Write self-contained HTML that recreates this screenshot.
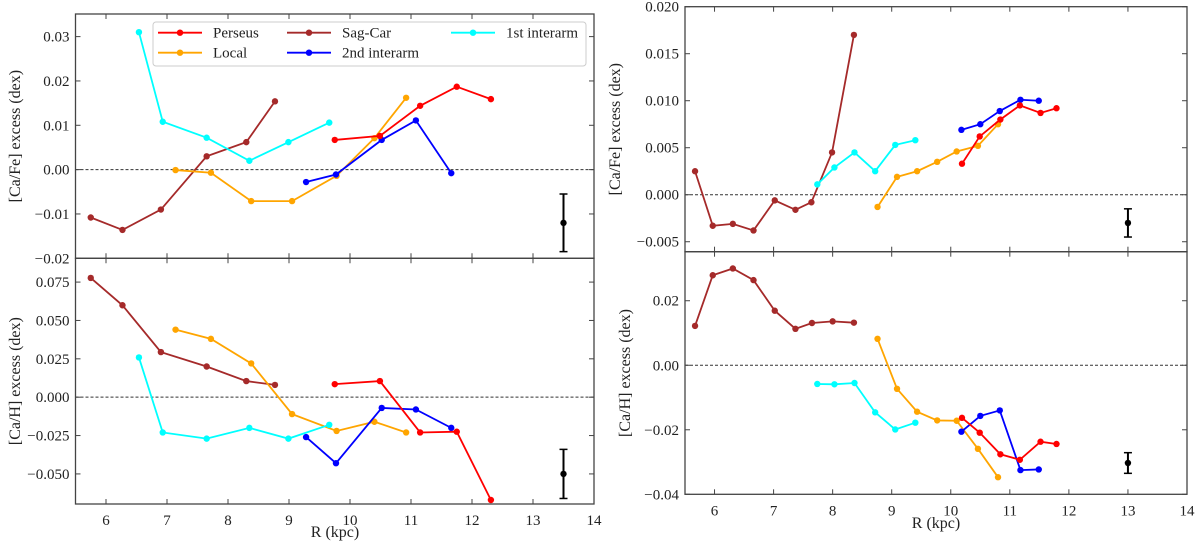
<!DOCTYPE html>
<html><head><meta charset="utf-8"><style>
html,body{margin:0;padding:0;background:#fff;}
svg{display:block;font-family:"Liberation Serif","DejaVu Serif",serif;}
</style></head><body>
<svg id="chart" width="1200" height="544" viewBox="0 0 1200 544" xmlns="http://www.w3.org/2000/svg"></svg>
<script>
// ---- data ----
const seriesNames = ["Perseus","Local","Sag-Car","2nd interarm","1st interarm"];
const seriesColors = ["#ff0000","#ffa500","#a52a2a","#0000ff","#00ffff"];
// Left panels
const L_sagR = [5.75,6.27,6.90,7.65,8.30,8.77];
const L_sagFe = [-0.0108,-0.0136,-0.0090,0.0030,0.0062,0.0154];
const L_sagH = [0.0777,0.0599,0.0294,0.0200,0.0105,0.0080];
const L_cyR = [6.54,6.93,7.65,8.35,8.99,9.66];
const L_cyFe = [0.0310,0.0108,0.0072,0.0020,0.0062,0.0106];
const L_cyH = [0.0259,-0.0230,-0.0270,-0.0200,-0.0270,-0.0180];
const L_locR = [7.14,7.72,8.38,9.05,9.78,10.40,10.92];
const L_locFe = [-0.0001,-0.0007,-0.0071,-0.0071,-0.0014,0.0071,0.0162];
const L_locH = [0.0440,0.0380,0.0220,-0.0110,-0.0220,-0.0160,-0.0230];
const L_blR = [9.28,9.77,10.52,11.08,11.66];
const L_blFe = [-0.0028,-0.0011,0.0067,0.0111,-0.0008];
const L_blH = [-0.0260,-0.0430,-0.0070,-0.0080,-0.0200];
const L_reR = [9.75,10.49,11.15,11.75,12.31];
const L_reFe = [0.0067,0.0076,0.0144,0.0187,0.0159];
const L_reH = [0.0085,0.0105,-0.0230,-0.0225,-0.0670];
const L_errR = 13.5, L_errFe = [-0.0120,0.0065], L_errH = [-0.0500,0.0160];
// Right panels
const R_sagR = [5.67,5.97,6.31,6.66,7.02,7.37,7.64,7.99,8.36];
const R_sagFe = [0.0025,-0.0033,-0.0031,-0.0038,-0.0006,-0.0016,-0.0008,0.0045,0.0170];
const R_sagHR = [5.67,5.97,6.31,6.66,7.02,7.37,7.65,8.00,8.36];
const R_sagH = [0.0122,0.0279,0.0300,0.0264,0.0169,0.0113,0.0131,0.0136,0.0132];
const R_cyR = [7.74,8.03,8.37,8.72,9.06,9.40];
const R_cyFe = [0.0011,0.0029,0.0045,0.0025,0.0053,0.0058];
const R_cyH = [-0.0058,-0.0059,-0.0055,-0.0146,-0.0199,-0.0178];
const R_locR = [8.76,9.09,9.43,9.77,10.10,10.46,10.80];
const R_locFe = [-0.0013,0.0019,0.0025,0.0035,0.0046,0.0052,0.0075];
const R_locH = [0.0082,-0.0073,-0.0144,-0.0171,-0.0172,-0.0259,-0.0347];
const R_reR = [10.19,10.49,10.84,11.17,11.52,11.79];
const R_reFe = [0.0033,0.0062,0.0080,0.0095,0.0087,0.0092];
const R_reH = [-0.0163,-0.0209,-0.0276,-0.0293,-0.0237,-0.0244];
const R_blR = [10.18,10.50,10.83,11.18,11.49];
const R_blFe = [0.0069,0.0075,0.0089,0.0101,0.0100];
const R_blH = [-0.0206,-0.0157,-0.0140,-0.0325,-0.0323];
const R_errR = 13.0, R_errFe = [-0.0030,0.0015], R_errH = [-0.0303,0.0032];
// ticks
const xTicks = [6,7,8,9,10,11,12,13,14];
const LtopTicks = [-0.02,-0.01,0.00,0.01,0.02,0.03];
const LtopLabels = ["\u22120.02","\u22120.01","0.00","0.01","0.02","0.03"];
const LbotTicks = [-0.05,-0.025,0,0.025,0.05,0.075];
const LbotLabels = ["\u22120.050","\u22120.025","0.000","0.025","0.050","0.075"];
const RtopTicks = [-0.005,0,0.005,0.01,0.015,0.02];
const RtopLabels = ["\u22120.005","0.000","0.005","0.010","0.015","0.020"];
const RbotTicks = [-0.04,-0.02,0,0.02];
const RbotLabels = ["\u22120.04","\u22120.02","0.00","0.02"];

const NS="http://www.w3.org/2000/svg";
const svg=document.getElementById('chart');
function mk(tag,attrs,parent){const e=document.createElementNS(NS,tag);for(const k in attrs)e.setAttribute(k,attrs[k]);(parent||svg).appendChild(e);return e;}

function panel(name,x0,x1,y0,y1,ymin,ymax,yt,ytl,ylab,showX,errR,err,series){
  const g=mk('g',{});
  
  
  const sx=v=>x0+(v-5.5)/(14-5.5)*(x1-x0);
  const sy=v=>y1-(v-ymin)/(ymax-ymin)*(y1-y0);
  const zl=mk('line',{x1:x0,x2:x1,y1:sy(0),y2:sy(0),stroke:'#333','stroke-width':1,'stroke-dasharray':'3,2'},g);
  
  
  xTicks.forEach(t=>{const x=sx(t);
    mk('line',{x1:x,x2:x,y1:y1,y2:y1-5,stroke:'#444','stroke-width':1},g);
    mk('line',{x1:x,x2:x,y1:y0,y2:y0+5,stroke:'#444','stroke-width':1},g);
    if(showX){const tx=mk('text',{x:x,y:y1+21,'text-anchor':'middle','font-size':15,fill:'#222'},g);tx.textContent=t;
      
      }
  });
  yt.forEach((t,i)=>{const y=sy(t);
    mk('line',{x1:x0,x2:x0+5,y1:y,y2:y,stroke:'#444','stroke-width':1},g);
    mk('line',{x1:x1,x2:x1-5,y1:y,y2:y,stroke:'#444','stroke-width':1},g);
    const tx=mk('text',{x:x0-6,y:y+5,'text-anchor':'end','font-size':15,fill:'#222'},g);tx.textContent=ytl[i];
    
    
  });
  series.forEach(s=>{
    const pts=s.r.map((r,i)=>sx(r)+','+sy(s.v[i])).join(' ');
    const pl=mk('polyline',{points:pts,fill:'none',stroke:s.c,'stroke-width':1.8},g);
    
    
    s.r.forEach((r,i)=>{const c=mk('circle',{cx:sx(r),cy:sy(s.v[i]),r:3.2,fill:s.c},g);
      
      });
  });
  const ex=sx(errR),ey=sy(err[0]),et=sy(err[0]+err[1]),eb=sy(err[0]-err[1]);
  const eg=mk('g',{stroke:'#000','stroke-width':2},g);
  
  
  mk('line',{x1:ex,x2:ex,y1:et,y2:eb},eg);
  mk('line',{x1:ex-4,x2:ex+4,y1:et,y2:et,'stroke-width':1.5},eg);
  mk('line',{x1:ex-4,x2:ex+4,y1:eb,y2:eb,'stroke-width':1.5},eg);
  mk('circle',{cx:ex,cy:ey,r:3.2,fill:'#000',stroke:'none'},g);
  mk('rect',{x:x0,y:y0,width:x1-x0,height:y1-y0,fill:'none',stroke:'#444','stroke-width':1.3},g);
  const yl=mk('text',{x:0,y:0,'text-anchor':'middle','font-size':16,fill:'#222',transform:`translate(${ylab},${(y0+y1)/2}) rotate(-90)`},g);
  yl.textContent=ylab===0?'':'';
  return {g,yl};
}
function S(n,r,v,c){return {n,r,v,c};}
const C=seriesColors;
let p;
p=panel('left-top-panel',75.5,594,14,258.3,-0.02,0.0351,LtopTicks,LtopLabels,20,false,L_errR,L_errFe,[
 S('sag-car',L_sagR,L_sagFe,C[2]),S('local',L_locR,L_locFe,C[1]),S('first-interarm',L_cyR,L_cyFe,C[4]),S('second-interarm',L_blR,L_blFe,C[3]),S('perseus',L_reR,L_reFe,C[0])]);
p.yl.textContent='[Ca/Fe] excess (dex)';
p=panel('left-bottom-panel',75.5,594,258.3,504,-0.0696,0.0905,LbotTicks,LbotLabels,20,true,L_errR,L_errH,[
 S('sag-car',L_sagR,L_sagH,C[2]),S('local',L_locR,L_locH,C[1]),S('first-interarm',L_cyR,L_cyH,C[4]),S('second-interarm',L_blR,L_blH,C[3]),S('perseus',L_reR,L_reH,C[0])]);
p.yl.textContent='[Ca/H] excess (dex)';
p=panel('right-top-panel',685,1187,6.7,251.7,-0.00606,0.020,RtopTicks,RtopLabels,620,false,R_errR,R_errFe,[
 S('sag-car',R_sagR,R_sagFe,C[2]),S('local',R_locR,R_locFe,C[1]),S('first-interarm',R_cyR,R_cyFe,C[4]),S('second-interarm',R_blR,R_blFe,C[3]),S('perseus',R_reR,R_reFe,C[0])]);
p.yl.textContent='[Ca/Fe] excess (dex)';
p=panel('right-bottom-panel',685,1187,251.7,494.3,-0.04,0.0352,RbotTicks,RbotLabels,630,true,R_errR,R_errH,[
 S('sag-car',R_sagHR,R_sagH,C[2]),S('local',R_locR,R_locH,C[1]),S('first-interarm',R_cyR,R_cyH,C[4]),S('second-interarm',R_blR,R_blH,C[3]),S('perseus',R_reR,R_reH,C[0])]);
p.yl.textContent='[Ca/H] excess (dex)';

let t=mk('text',{x:335,y:537,'text-anchor':'middle','font-size':16,fill:'#222'});t.textContent='R (kpc)';

t=mk('text',{x:936,y:528,'text-anchor':'middle','font-size':16,fill:'#222'});t.textContent='R (kpc)';


// legend
const lg=mk('g',{});


mk('rect',{x:153,y:22,width:433,height:44,rx:3,fill:'#fff',stroke:'#ccc','stroke-width':1},lg);
const legX=[158,287,451], legY=[32.7,52.7];
const legOrder=[[0,0,0],[1,0,1],[2,1,0],[3,1,1],[4,2,0]];
legOrder.forEach(([si,col,row])=>{
  const e=mk('g',{},lg);
  
  
  const x=legX[col],y=legY[row];
  mk('line',{x1:x,x2:x+44,y1:y,y2:y,stroke:seriesColors[si],'stroke-width':1.8},e);
  mk('circle',{cx:x+22,cy:y,r:3.2,fill:seriesColors[si]},e);
  const tx=mk('text',{x:x+55,y:y+5,'font-size':15,fill:'#222'},e);tx.textContent=seriesNames[si];
});
</script>
</body></html>
